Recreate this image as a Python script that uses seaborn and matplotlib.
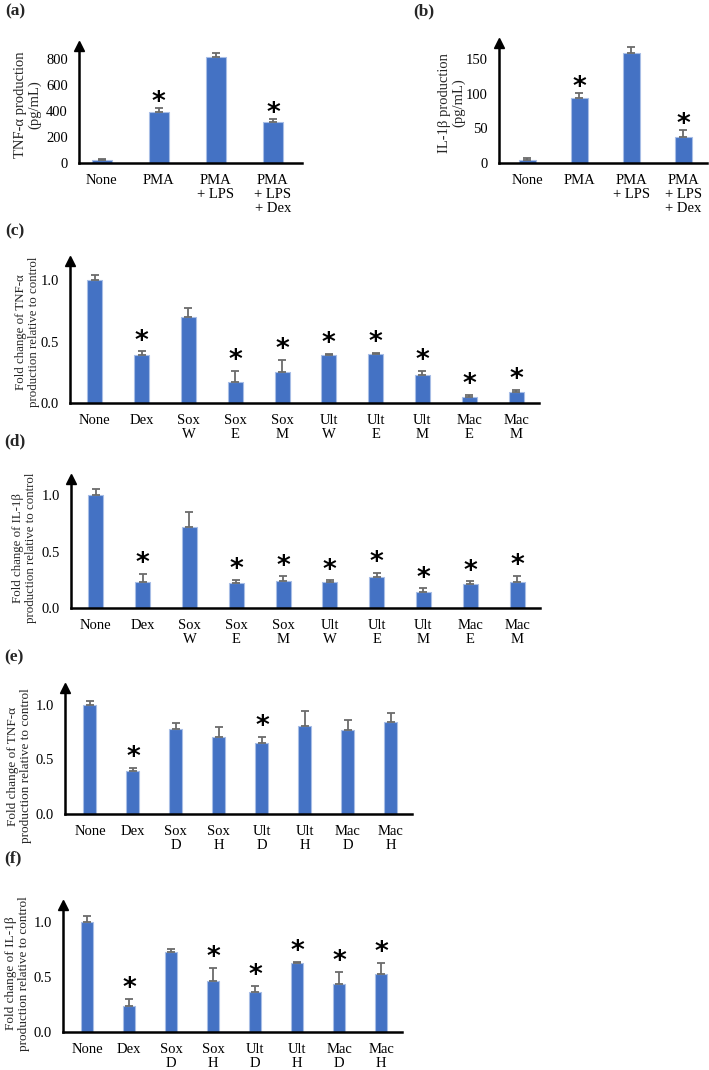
import numpy as np
import pandas as pd
import matplotlib
matplotlib.use("Agg")
import matplotlib.pyplot as plt
import seaborn as sns
from matplotlib.ticker import FormatStrFormatter

sns.set_theme(style="white")
plt.rcParams["font.family"] = ["Liberation Serif", "DejaVu Serif"]

# ---------------- data ----------------
a_labels = ["None", "PMA", "PMA\n+ LPS", "PMA\n+ LPS\n+ Dex"]
a_mean = [22, 392, 813, 315]
a_err = [8, 31, 33, 26]
a_sig = [False, True, False, True]
a_yticks = [0, 200, 400, 600, 800]

b_labels = ["None", "PMA", "PMA\n+ LPS", "PMA\n+ LPS\n+ Dex"]
b_mean = [5, 93, 159, 38]
b_err = [2, 8, 8, 10]
b_sig = [False, True, False, True]
b_yticks = [0, 50, 100, 150]

cd_labels = ["None", "Dex", "Sox\nW", "Sox\nE", "Sox\nM",
             "Ult\nW", "Ult\nE", "Ult\nM", "Mac\nE", "Mac\nM"]
c_mean = [1.00, 0.39, 0.70, 0.17, 0.25, 0.39, 0.40, 0.23, 0.05, 0.09]
c_err = [0.04, 0.03, 0.07, 0.09, 0.10, 0.01, 0.01, 0.03, 0.015, 0.016]
c_sig = [False, True, False, True, True, True, True, True, True, True]

d_mean = [1.00, 0.235, 0.72, 0.225, 0.243, 0.235, 0.272, 0.14, 0.21, 0.23]
d_err = [0.056, 0.065, 0.135, 0.025, 0.037, 0.01, 0.038, 0.035, 0.027, 0.054]
d_sig = [False, True, False, True, True, True, True, True, True, True]

ef_labels = ["None", "Dex", "Sox\nD", "Sox\nH", "Ult\nD", "Ult\nH", "Mac\nD", "Mac\nH"]
e_mean = [1.00, 0.394, 0.78, 0.703, 0.654, 0.804, 0.774, 0.844]
e_err = [0.04, 0.026, 0.05, 0.097, 0.056, 0.136, 0.088, 0.08]
e_sig = [False, True, False, False, True, False, False, False]

f_mean = [1.00, 0.236, 0.728, 0.462, 0.363, 0.631, 0.435, 0.532]
f_err = [0.057, 0.064, 0.03, 0.121, 0.057, 0.006, 0.115, 0.096]
f_sig = [False, True, False, True, True, True, True, True]

fold_ticks = [0.0, 0.5, 1.0]

# ---------------- styling ----------------
BAR = "#4472C4"
EDGE = "#A8BEE6"
ERR = "#6B6B6B"
W, H = 709, 1070

fig = plt.figure(figsize=(W / 100, H / 100), dpi=100)


def px_axes(L, R, B, T):
    return fig.add_axes([L / W, 1 - B / H, (R - L) / W, (B - T) / H])


def panel(ax, labels, mean, err, sig, ylim, yticks, xlim, width, ylabel,
          star_off, fmt=None, ylabel_xy=(-0.1, 0.5), ylabel_size=10.5):
    df = pd.DataFrame({"cat": labels, "val": mean})
    sns.barplot(data=df, x="cat", y="val", ax=ax, color=BAR, width=width,
                edgecolor=EDGE, linewidth=0.8, errorbar=None, saturation=1)
    x = np.arange(len(labels))
    ax.errorbar(x, mean, yerr=[np.zeros(len(err)), err], fmt="none",
                ecolor=ERR, elinewidth=1.3, capsize=2.6, capthick=1.3, zorder=3)
    for i, (m, e, s) in enumerate(zip(mean, err, sig)):
        if s:
            ax.annotate("*", xy=(i, m + e), xytext=(0, star_off),
                        textcoords="offset points", ha="center", va="center",
                        fontsize=19, fontweight="bold", family="DejaVu Sans",
                        color="black")
    ax.set_xlim(*xlim)
    ax.set_ylim(*ylim)
    ax.set_yticks(yticks)
    if fmt:
        ax.yaxis.set_major_formatter(FormatStrFormatter(fmt))
    ax.set_xlabel("")
    ax.set_ylabel(ylabel, fontsize=ylabel_size, linespacing=1.1)
    ax.yaxis.set_label_coords(*ylabel_xy)
    ax.tick_params(axis="both", length=0, labelsize=10.5, colors="black")
    ax.tick_params(axis="y", pad=8)
    ax.tick_params(axis="x", pad=8)
    for t in ax.get_xticklabels():
        t.set_linespacing(1.1)
    for sp in ["top", "right"]:
        ax.spines[sp].set_visible(False)
    for sp in ["left", "bottom"]:
        ax.spines[sp].set_color("black")
        ax.spines[sp].set_linewidth(1.8)
    ax.plot([0], [1], marker="^", color="black", markersize=7.5,
            transform=ax.transAxes, clip_on=False, zorder=5)
    ax.set_facecolor("none")
    ax.grid(False)


# (a)
ax_a = px_axes(79, 302, 163, 46)
panel(ax_a, a_labels, a_mean, a_err, a_sig, (0, 900), a_yticks,
      (-0.40, 3.51), 0.35, "TNF-α production\n(pg/mL)", 3.4,
      ylabel_xy=(-0.17, 0.5))

# (b)
ax_b = px_axes(499, 707, 163, 43)
panel(ax_b, b_labels, b_mean, b_err, b_sig, (0, 173), b_yticks,
      (-0.54, 3.46), 0.33, "IL-1β production\n(pg/mL)", 3.4,
      ylabel_xy=(-0.16, 0.5))

# (c)
ax_c = px_axes(70, 539, 403, 261)
panel(ax_c, cd_labels, c_mean, c_err, c_sig, (0, 1.155), fold_ticks,
      (-0.53, 9.49), 0.32,
      "Fold change of TNF-α\nproduction relative to control", 7,
      fmt="%.1f", ylabel_xy=(-0.064, 0.5), ylabel_size=9.3)

# (d)
ax_d = px_axes(71, 540, 608, 479)
panel(ax_d, cd_labels, d_mean, d_err, d_sig, (0, 1.145), fold_ticks,
      (-0.53, 9.49), 0.32,
      "Fold change of IL-1β\nproduction relative to control", 7,
      fmt="%.1f", ylabel_xy=(-0.072, 0.465), ylabel_size=9.3)

# (e)
ax_e = px_axes(65, 412, 814, 688)
panel(ax_e, ef_labels, e_mean, e_err, e_sig, (0, 1.155), fold_ticks,
      (-0.58, 7.49), 0.30,
      "Fold change of TNF-α\nproduction relative to control", 7,
      fmt="%.1f", ylabel_xy=(-0.095, 0.38), ylabel_size=9.5)

# (f)
ax_f = px_axes(63, 402, 1032, 905)
panel(ax_f, ef_labels, f_mean, f_err, f_sig, (0, 1.155), fold_ticks,
      (-0.57, 7.5), 0.30,
      "Fold change of IL-1β\nproduction relative to control", 7,
      fmt="%.1f", ylabel_xy=(-0.097, 0.46), ylabel_size=9.5)

# panel letters
for lab, (px, py) in {"(a)": (5, 3), "(b)": (413, 3), "(c)": (5, 223),
                      "(d)": (4, 433), "(e)": (4, 649), "(f)": (4, 850)}.items():
    fig.text(px / W, 1 - py / H, lab, fontsize=12.5, fontweight="bold",
             ha="left", va="top")

fig.savefig("out.png", dpi=100, facecolor="white")
